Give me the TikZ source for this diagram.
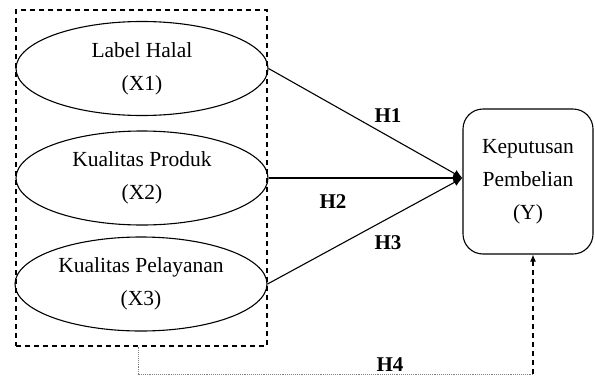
\documentclass[tikz,border=0pt]{standalone}
\usepackage{fontspec}
\setmainfont{Liberation Serif}
\usetikzlibrary{shapes.geometric,arrows.meta,calc}
\begin{document}
\begin{tikzpicture}[x=1pt,y=-1pt,
  varell/.style={draw, ellipse, line width=1.1pt, minimum width=252pt, minimum height=94pt, inner sep=0pt, align=center, font=\fontsize{21.5}{33}\selectfont},
  ybox/.style={draw, rounded corners=20pt, line width=1.1pt, minimum width=130pt, minimum height=145pt, inner sep=0pt, align=center, font=\fontsize{21.5}{33}\selectfont},
  grpbox/.style={draw, dash pattern=on 5pt off 4pt, line width=1.1pt, minimum width=251pt, minimum height=336pt, inner sep=0pt},
  hlab/.style={font=\fontsize{21}{22}\selectfont\bfseries},
  conn/.style={line width=1.1pt, -{Latex[length=9pt,width=8pt]}}
]
\useasboundingbox (0,0) rectangle (595,378);
\node[grpbox] (grp) at (141.5,178) {};
\node[varell] (e1) at (142,68.5) {Label Halal\\(X1)};
\node[varell] (e2) at (142,178) {Kualitas Produk\\(X2)};
\node[varell] (e3) at (141,284) {Kualitas Pelayanan\\(X3)};
\node[ybox] (Y) at (528,181.5) {Keputusan\\Pembelian\\(Y)};
\coordinate (tip) at (Y.west |- e2.east);
\draw[conn] (e1.east) -- (tip);
\draw[conn] (e2.east) -- (tip);
\draw[conn] (e3.east) -- (tip);
\node[hlab] (h1) at (388,116) {H1};
\node[hlab] (h2) at (333,202) {H2};
\node[hlab] (h3) at (388,243) {H3};
\coordinate (c1) at (138,374);
\coordinate (c2) at (533,374);
\draw[gray, densely dotted, line width=0.9pt] (grp.south -| c1) -- (c1) -- (c2);
\draw[line width=1.1pt, dash pattern=on 5pt off 4pt, -{Latex[length=7pt,width=6pt]}] (c2) -- (c2 |- Y.south);
\node[hlab, fill=white, inner sep=0.5pt] (h4) at (390,365) {H4};
\end{tikzpicture}
\end{document}
